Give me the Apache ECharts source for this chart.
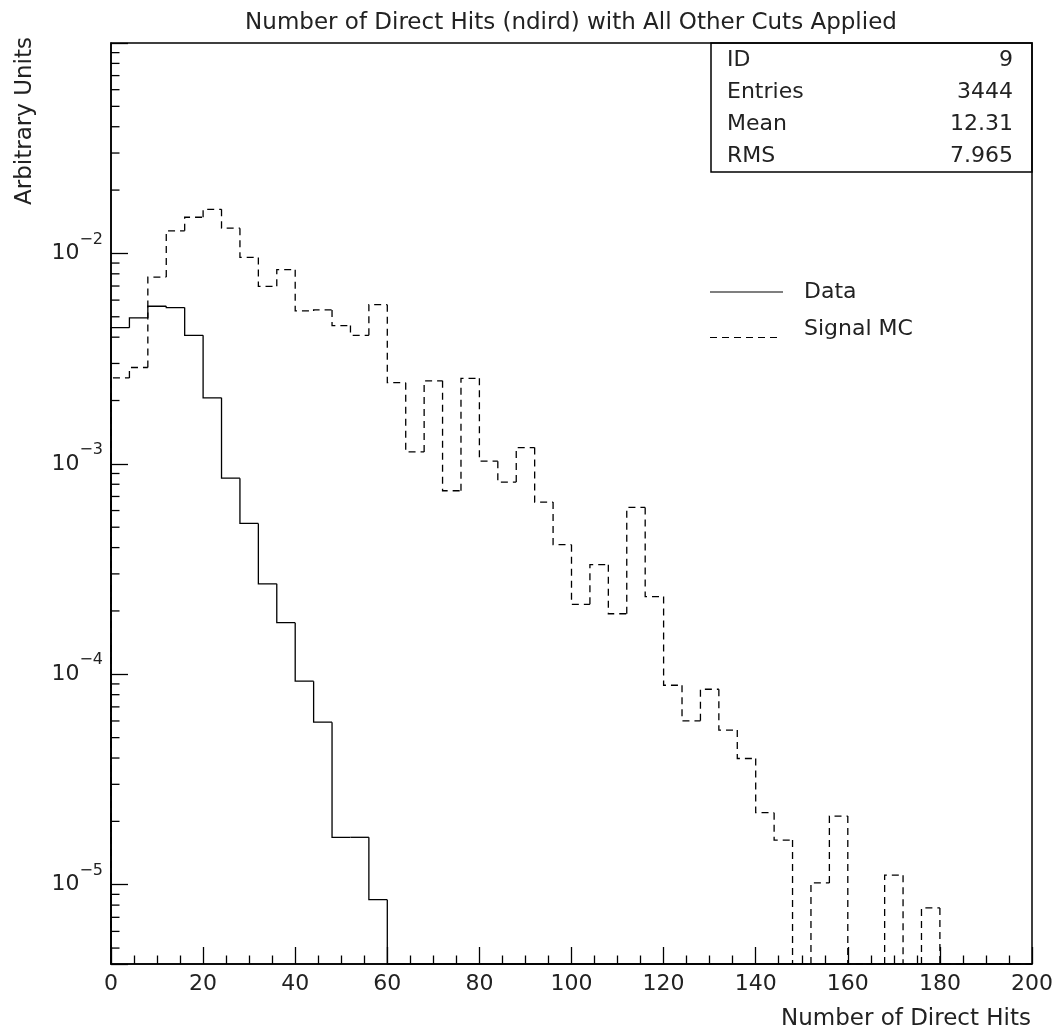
<!DOCTYPE html>
<html><head><meta charset="utf-8">
<script src="https://cdn.jsdelivr.net/npm/echarts@6/dist/echarts.min.js"></script>
<style>html,body{margin:0;padding:0;background:#fff}#c{width:1060px;height:1033px}</style>
</head><body><div id="c"></div>
<script>
// ---- data ----
const titleText = 'Number of Direct Hits (ndird) with All Other Cuts Applied';
const xAxisTitle = 'Number of Direct Hits';
const yAxisTitle = 'Arbitrary Units';
const binStarts = [0,4,8,12,16,20,24,28,32,36,40,44,48,52,56,60,64,68,72,76,80,84,88,92,96,
                   100,104,108,112,116,120,124,128,132,136,140,144,148,152,156,160,164,168,172,176,180,184,188,192,196];
const binWidth = 4;
const dataValues = [4.44e-3,4.94e-3,5.61e-3,5.53e-3,4.08e-3,2.06e-3,8.55e-4,5.21e-4,2.69e-4,1.76e-4,
                    9.27e-5,5.92e-5,1.68e-5,1.68e-5,8.49e-6,0,0,0,0,0,
                    0,0,0,0,0,0,0,0,0,0,
                    0,0,0,0,0,0,0,0,0,0,
                    0,0,0,0,0,0,0,0,0,0];
const mcValues = [2.56e-3,2.87e-3,7.72e-3,1.28e-2,1.486e-2,1.62e-2,1.318e-2,9.57e-3,6.98e-3,8.37e-3,
                  5.33e-3,5.39e-3,4.54e-3,4.08e-3,5.71e-3,2.43e-3,1.14e-3,2.48e-3,7.45e-4,2.55e-3,
                  1.03e-3,8.19e-4,1.195e-3,6.58e-4,4.13e-4,2.15e-4,3.32e-4,1.94e-4,6.21e-4,2.34e-4,
                  8.87e-5,6.01e-5,8.49e-5,5.43e-5,3.98e-5,2.20e-5,1.63e-5,0,1.02e-5,2.12e-5,
                  0,0,1.11e-5,0,7.76e-6,0,0,0,0,0];
const seriesNames = ['Data','Signal MC'];
const statLabels = ['ID','Entries','Mean','RMS'];
const statValues = ['9','3444','12.31','7.965'];
const yMin = 4.2e-6, yMax = 0.1;
const xMin = 0, xMax = 200, xInterval = 20;
const yMinorMultipliers = [2,3,4,5,6,7,8,9];
const yDecades = [-6,-5,-4,-3,-2];

// ---- style ----
const FONT = 'DejaVu Sans';
const INK = '#222';
const GRID = {left:111, top:43, width:921, height:921};

const yMinorTicks = [];
yDecades.forEach(d => yMinorMultipliers.forEach(m => {
  const v = m * Math.pow(10, d);
  if (v > yMin && v < yMax) yMinorTicks.push(v);
}));

function histRender(values, dash) {
  return function (params, api) {
    const i = params.dataIndex;
    const cs = params.coordSys;
    const bottom = cs.y + cs.height;
    const yOf = v => (v > 0 ? api.coord([0, v])[1] : bottom);
    const x0 = api.coord([api.value(0), 1e-3])[0];
    const x1 = api.coord([api.value(1), 1e-3])[0];
    const yPrev = i === 0 ? bottom : yOf(values[i - 1]);
    const yCur = yOf(values[i]);
    const pts = [[x0, yPrev], [x0, yCur], [x1, yCur]];
    if (i === values.length - 1) pts.push([x1, bottom]);
    return {type: 'polyline', shape: {points: pts},
      style: {stroke: '#000', fill: null, lineWidth: 1.3, lineDash: dash}};
  };
}
function histData(values) {
  return values.map((v, i) => [binStarts[i], binStarts[i] + binWidth, v]);
}

const chart = echarts.init(document.getElementById('c'), null, {renderer: 'canvas'});

const legendCommon = {
  orient: 'vertical', padding: 0, itemWidth: 89, selectedMode: false,
  textStyle: {fontFamily: FONT, fontSize: 22, color: INK}
};
let dashPath = 'path://M0,0 M89,0';
for (let k = 0; k < 6; k++) { const a = k * 12; dashPath += ` M${a},17H${a+7}V18H${a}Z`; }

const statGraphics = [];
statLabels.forEach((lab, i) => {
  const y = 60 + i * 32;
  statGraphics.push({type: 'text', x: 727, y: y, style: {text: lab, font: `22px "${FONT}"`, fill: INK, align: 'left', verticalAlign: 'middle'}});
  statGraphics.push({type: 'text', x: 1013, y: y, style: {text: statValues[i], font: `22px "${FONT}"`, fill: INK, align: 'right', verticalAlign: 'middle'}});
});

chart.setOption({
  animation: false,
  backgroundColor: '#fff',
  grid: Object.assign({show: true, borderColor: '#000', borderWidth: 1.5, backgroundColor: 'transparent'}, GRID),
  legend: [
    Object.assign({}, legendCommon, {left: 710, top: 281, itemHeight: 1,
      data: [{name: seriesNames[0], icon: 'path://M0,0H73V1H0Z M89,0'}]}),
    Object.assign({}, legendCommon, {left: 710, top: 318, itemHeight: 18,
      data: [{name: seriesNames[1], icon: dashPath}]})
  ],
  xAxis: {
    type: 'value', min: xMin, max: xMax, interval: xInterval,
    axisLine: {show: true, lineStyle: {color: '#000', width: 1.5}},
    axisTick: {show: true, inside: true, length: 17, lineStyle: {color: '#000', width: 1.3}},
    minorTick: {show: true, splitNumber: 4, length: 8.5, lineStyle: {color: '#000', width: 1.3}},
    splitLine: {show: false}, minorSplitLine: {show: false},
    axisLabel: {fontFamily: FONT, fontSize: 22, color: INK, margin: 9}
  },
  yAxis: {
    type: 'log', logBase: 10, min: yMin, max: yMax,
    axisLine: {show: true, lineStyle: {color: '#000', width: 1.5}},
    axisTick: {show: true, inside: true, length: 17, lineStyle: {color: '#000', width: 1.3}},
    splitLine: {show: false},
    axisLabel: {
      margin: 8, showMaxLabel: false,
      formatter: function (v) {
        const e = Math.log10(v), r = Math.round(e);
        if (Math.abs(e - r) > 1e-6 || r >= -1) return '';
        return '{b|10}{s|' + (r < 0 ? '\u2212' : '') + Math.abs(r) + '}';
      },
      rich: {
        b: {fontFamily: FONT, fontSize: 22, color: INK, lineHeight: 44, verticalAlign: 'middle'},
        s: {fontFamily: FONT, fontSize: 16, color: INK, lineHeight: 16, verticalAlign: 'top'}
      }
    }
  },
  graphic: [
    {type: 'text', x: 571, y: 23, style: {text: titleText, font: `23px "${FONT}"`, fill: INK, align: 'center', verticalAlign: 'middle'}},
    {type: 'text', x: 1031, y: 1019, style: {text: xAxisTitle, font: `23px "${FONT}"`, fill: INK, align: 'right', verticalAlign: 'middle'}},
    {type: 'text', x: 25, y: 121, rotation: Math.PI / 2, style: {text: yAxisTitle, font: `23px "${FONT}"`, fill: INK, align: 'center', verticalAlign: 'middle'}},
    {type: 'rect', shape: {x: 711, y: 43, width: 321, height: 129}, style: {fill: 'none', stroke: '#000', lineWidth: 1.5}}
  ].concat(statGraphics),
  series: [
    {type: 'custom', name: seriesNames[0], coordinateSystem: 'cartesian2d', itemStyle: {color: '#000'},
     encode: {x: [0, 1], y: 2}, data: histData(dataValues), renderItem: histRender(dataValues, null), silent: true, z: 3},
    {type: 'custom', name: seriesNames[1], coordinateSystem: 'cartesian2d', itemStyle: {color: '#000'},
     encode: {x: [0, 1], y: 2}, data: histData(mcValues), renderItem: histRender(mcValues, [7, 5]), silent: true, z: 3},
    {type: 'custom', name: 'yMinorTicks', coordinateSystem: 'cartesian2d', silent: true, z: 4,
     encode: {x: 0, y: 1}, data: yMinorTicks.map(v => [xMin, v]),
     renderItem: function (params, api) {
       const p = api.coord([api.value(0), api.value(1)]);
       return {type: 'line', shape: {x1: p[0], y1: p[1], x2: p[0] + 8.5, y2: p[1]}, style: {stroke: '#000', lineWidth: 1.3}};
     }}
  ]
});
</script></body></html>
